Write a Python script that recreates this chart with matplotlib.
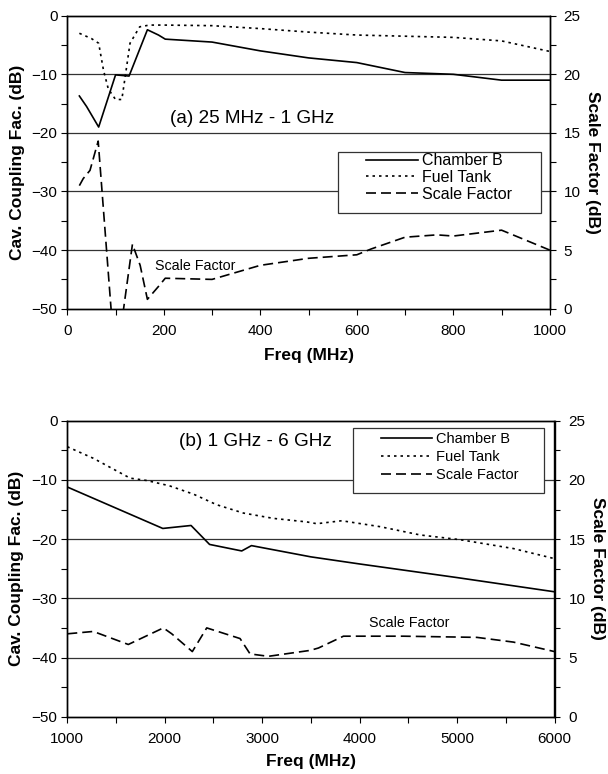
import matplotlib
matplotlib.use("Agg")
import matplotlib.pyplot as plt
from matplotlib.patches import Rectangle
from matplotlib.lines import Line2D
from matplotlib.ticker import MultipleLocator

plt.rcParams["font.family"] = ["Liberation Sans", "DejaVu Sans"]

# (a) 25 MHz - 1 GHz
chamber_a_f = [25, 40, 65, 100, 128, 166, 189, 203, 300, 400, 500, 600, 700, 800, 900, 1000]
chamber_a = [-13.7, -15.5, -19.0, -10.1, -10.3, -2.4, -3.3, -4.0, -4.5, -6.0, -7.2, -8.0,
             -9.7, -10.0, -11.0, -11.0]
fuel_a_f = [25, 50, 65, 75, 85, 100, 113, 120, 130, 150, 170, 200, 300, 400, 500, 600, 700,
            800, 900, 950, 1000]
fuel_a = [-3.0, -3.9, -4.7, -9.3, -12.5, -14.3, -14.3, -10.4, -4.7, -1.9, -1.6, -1.6, -1.7,
          -2.2, -2.8, -3.3, -3.5, -3.7, -4.3, -5.2, -6.1]
scale_a_f = [25, 33, 47, 64, 100, 135, 151, 166, 189, 203, 300, 400, 500, 600, 630, 700, 766,
             800, 900, 1000]
scale_a = [10.5, 11.1, 11.8, 14.3, -5.0, 5.5, 3.7, 0.8, 1.9, 2.6, 2.5, 3.7, 4.3, 4.6, 5.1,
           6.1, 6.3, 6.2, 6.7, 5.0]

# (b) 1 GHz - 6 GHz
chamber_b_f = [1000, 1980, 2270, 2460, 2790, 2890, 3500, 4000, 5000, 6000]
chamber_b = [-11.2, -18.2, -17.7, -20.9, -22.0, -21.1, -23.0, -24.2, -26.5, -28.9]
fuel_b_f = [1000, 1267, 1644, 1815, 2049, 2294, 2534, 2807, 3115, 3458, 3561, 3817, 4210,
            4621, 5032, 5579, 6000]
fuel_b = [-4.4, -6.35, -9.7, -10.1, -11.0, -12.4, -14.2, -15.6, -16.5, -17.1, -17.4, -16.9,
          -17.9, -19.3, -20.1, -21.6, -23.3]
scale_b_f = [1000, 1267, 1626, 1986, 2072, 2283, 2431, 2773, 2876, 3064, 3492, 3577, 3834,
             4450, 5203, 5579, 6000]
scale_b = [7.0, 7.2, 6.1, 7.5, 7.0, 5.5, 7.5, 6.6, 5.3, 5.1, 5.6, 5.8, 6.8, 6.8, 6.7, 6.3,
           5.5]

series_names = ["Chamber B", "Fuel Tank", "Scale Factor"]

SOLID = "-"
DOTTED = (0, (1.5, 2.4))
DASHED = (0, (6, 3))
LW = 1.2


def style_axes(ax, ax2, xlim, xmajor, xminor):
    ax.set_xlim(*xlim)
    ax.set_ylim(-50, 0)
    ax2.set_ylim(0, 25)
    ax.xaxis.set_major_locator(MultipleLocator(xmajor))
    ax.xaxis.set_minor_locator(MultipleLocator(xminor))
    ax.yaxis.set_major_locator(MultipleLocator(10))
    ax.yaxis.set_minor_locator(MultipleLocator(5))
    ax2.yaxis.set_major_locator(MultipleLocator(5))
    ax2.yaxis.set_minor_locator(MultipleLocator(2.5))
    for a in (ax, ax2):
        a.tick_params(which="both", direction="out", length=4, width=0.8, labelsize=11)
        for s in a.spines.values():
            s.set_linewidth(1.0)
    ax.tick_params(axis="x", pad=7)
    ax.tick_params(axis="y", pad=3)
    ax2.tick_params(axis="y", pad=6)
    for yv in (-10, -20, -30, -40):
        ax.axhline(yv, color="#333333", lw=0.9, zorder=1)
    ax.set_ylabel("Cav. Coupling Fac. (dB)", fontsize=12.5, fontweight="bold",
                  va="center", ha="center")
    ax.yaxis.set_label_coords(-0.104, 0.5)
    ax2.set_ylabel("Scale Factor (dB)", fontsize=12.5, fontweight="bold", rotation=270,
                   va="center", ha="center", rotation_mode="anchor")
    ax2.yaxis.set_label_coords(1.088, 0.5)
    ax.set_xlabel("Freq (MHz)", fontsize=12.5, fontweight="bold", va="center")


def add_legend(ax2, box, anchor, fontsize, handlelength, handletextpad, labelspacing):
    rect = Rectangle((box[0], box[1]), box[2] - box[0], box[3] - box[1],
                     transform=ax2.transAxes, facecolor="white", edgecolor="#333333",
                     lw=0.9, zorder=5)
    ax2.add_patch(rect)
    handles = [Line2D([], [], color="black", lw=LW, linestyle=ls)
               for ls in (SOLID, DOTTED, DASHED)]
    leg = ax2.legend(handles, series_names, loc="upper left", bbox_to_anchor=anchor,
                     frameon=False, fontsize=fontsize, handlelength=handlelength,
                     handletextpad=handletextpad, labelspacing=labelspacing,
                     borderpad=0, borderaxespad=0)
    leg.set_zorder(6)


fig = plt.figure(figsize=(6.08, 7.74), dpi=100)

# top panel
ax_a = fig.add_axes([67.3 / 608, 1 - 308.7 / 774, 482.5 / 608, 293 / 774])
ax_a2 = ax_a.twinx()
ax_a.plot(chamber_a_f, chamber_a, color="black", lw=LW, linestyle=SOLID, zorder=3)
ax_a.plot(fuel_a_f, fuel_a, color="black", lw=LW, linestyle=DOTTED, zorder=3)
ax_a2.plot(scale_a_f, scale_a, color="black", lw=LW, linestyle=DASHED, zorder=3)
style_axes(ax_a, ax_a2, (0, 1000), 200, 100)
ax_a.xaxis.set_label_coords(0.5, -0.161)
ax_a.text(212, -17.5, "(a) 25 MHz - 1 GHz", fontsize=13.7, ha="left", va="center")
ax_a.text(182, -42.7, "Scale Factor", fontsize=10.3, ha="left", va="center")
add_legend(ax_a2, (0.560, 0.3256, 0.982, 0.536), (0.620, 0.530), 11.5, 3.25, 0.23, 0.1)

# bottom panel
ax_b = fig.add_axes([67.3 / 608, 1 - 716.7 / 774, 487.2 / 608, 296 / 774])
ax_b2 = ax_b.twinx()
ax_b.plot(chamber_b_f, chamber_b, color="black", lw=LW, linestyle=SOLID, zorder=3)
ax_b.plot(fuel_b_f, fuel_b, color="black", lw=LW, linestyle=DOTTED, zorder=3)
ax_b2.plot(scale_b_f, scale_b, color="black", lw=LW, linestyle=DASHED, zorder=3)
style_axes(ax_b, ax_b2, (1000, 6000), 1000, 500)
ax_b.xaxis.set_label_coords(0.5, -0.151)
ax_b.text(2147, -3.55, "(b) 1 GHz - 6 GHz", fontsize=13.7, ha="left", va="center")
ax_b.text(4100, -34.2, "Scale Factor", fontsize=10.3, ha="left", va="center")
add_legend(ax_b2, (0.587, 0.757, 0.978, 0.976), (0.643, 0.962), 10.5, 3.5, 0.3, 0.29)

fig.savefig("out.png", dpi=100)
